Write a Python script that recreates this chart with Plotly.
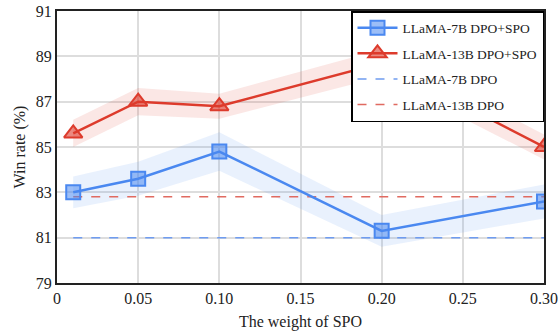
import plotly.graph_objects as go

x_vals = [0.01, 0.05, 0.10, 0.20, 0.30]
spo_7b = [83.0, 83.6, 84.8, 81.3, 82.6]
spo_13b = [85.6, 87.0, 86.8, 88.7, 85.0]
band_7b = [0.7, 0.75, 0.85, 0.7, 0.75]
band_13b = [0.6, 0.6, 0.55, 0.6, 0.55]
dpo_7b = 81.0
dpo_13b = 82.8
x_ticks = [0, 0.05, 0.10, 0.15, 0.20, 0.25, 0.30]
x_tick_labels = ["0", "0.05", "0.10", "0.15", "0.20", "0.25", "0.30"]
y_ticks = [79, 81, 83, 85, 87, 89, 91]

blue = "#4a88f0"
red = "#dd3b2c"
font = "Liberation Serif, Times New Roman, Times, serif"

fig = go.Figure()

def band(yv, w, color):
    up = [a + b for a, b in zip(yv, w)]
    lo = [a - b for a, b in zip(yv, w)]
    fig.add_trace(go.Scatter(x=x_vals + x_vals[::-1], y=up + lo[::-1], fill="toself",
                             fillcolor=color, line=dict(width=0), hoverinfo="skip",
                             showlegend=False, mode="lines"))

band(spo_7b, band_7b, "rgba(74,136,240,0.12)")
band(spo_13b, band_13b, "rgba(221,59,44,0.12)")

fig.add_trace(go.Scatter(x=[x_vals[0], x_vals[-1]], y=[dpo_7b, dpo_7b], mode="lines",
                         line=dict(color="#6f9cf0", width=1.5, dash="dash"), name="LLaMA-7B DPO",
                         legendrank=3, legendgroup="c"))
fig.add_trace(go.Scatter(x=[x_vals[0], x_vals[-1]], y=[dpo_13b, dpo_13b], mode="lines",
                         line=dict(color="#e06a60", width=1.5, dash="dash"), name="LLaMA-13B DPO",
                         legendrank=4, legendgroup="d"))
fig.add_trace(go.Scatter(x=x_vals, y=spo_7b, mode="lines+markers", name="LLaMA-7B DPO+SPO",
                         line=dict(color=blue, width=2.5),
                         marker=dict(symbol="square", size=14, color="rgba(74,136,240,0.55)",
                                     line=dict(color=blue, width=2)), legendrank=1, legendgroup="a"))
fig.add_trace(go.Scatter(x=x_vals, y=spo_13b, mode="lines+markers", name="LLaMA-13B DPO+SPO",
                         line=dict(color=red, width=2.5),
                         marker=dict(symbol="triangle-up", size=16, color="rgba(221,59,44,0.6)",
                                     line=dict(color=red, width=2)), legendrank=2, legendgroup="b"))

fig.update_layout(
    width=558, height=336,
    margin=dict(l=57, r=14, t=11, b=53, autoexpand=False),
    plot_bgcolor="white", paper_bgcolor="white",
    font=dict(family=font, size=16, color="#222"),
    legend=dict(x=1, y=1, xanchor="right", yanchor="top", bordercolor="black", borderwidth=1.5,
                bgcolor="white", font=dict(size=13.5), tracegroupgap=5, itemwidth=40),
    showlegend=True,
)
fig.update_xaxes(range=[0, 0.30], tickvals=x_ticks, ticktext=x_tick_labels,
                 showgrid=True, gridcolor="#dddddd", gridwidth=1.5,
                 showline=True, linecolor="#222", linewidth=2, mirror=True,
                 title=dict(text="The weight of SPO", font=dict(size=16), standoff=10),
                 ticks="", zeroline=False, automargin=False)
fig.update_yaxes(range=[79, 91], tickvals=y_ticks,
                 showgrid=True, gridcolor="#dddddd", gridwidth=1.5,
                 showline=True, linecolor="#222", linewidth=2, mirror=True,
                 title=dict(text="Win rate (%)", font=dict(size=16), standoff=6),
                 ticks="", zeroline=False, automargin=False)

fig.write_html("out.html", config={"displayModeBar": False},
               post_script="document.body.style.margin='0';document.body.style.overflow='hidden';")
